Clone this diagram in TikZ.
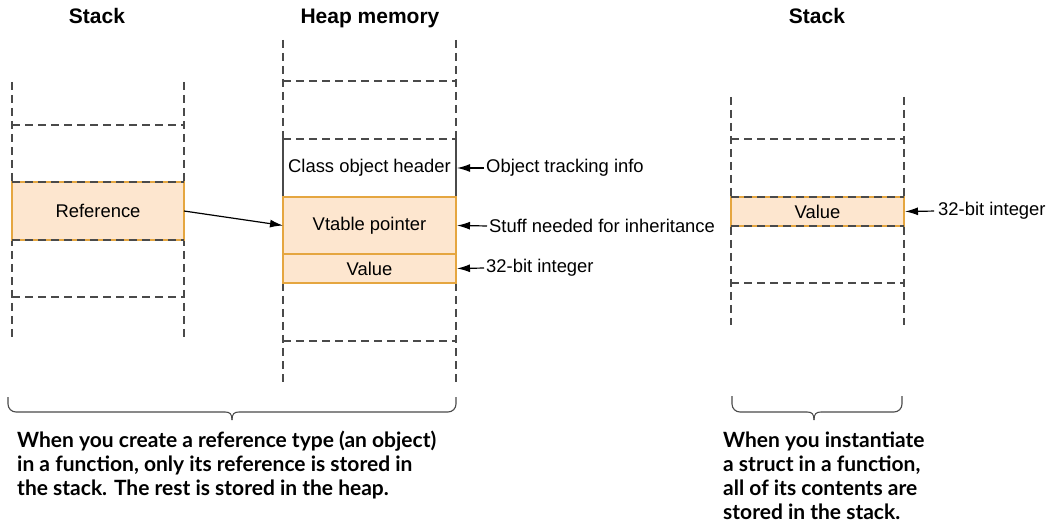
\documentclass[tikz,border=0pt]{standalone}
\usepackage{fontspec}
\setmainfont{Liberation Sans}
\newfontfamily\notefont{Lato}
\usetikzlibrary{arrows.meta}
\definecolor{peach}{HTML}{FDE6CF}
\definecolor{orangeline}{HTML}{E5A640}
\definecolor{linegray}{HTML}{4A4A4A}
\begin{document}
\begin{tikzpicture}[x=1pt,y=-1pt,
  dashline/.style={draw=linegray, line width=1.1pt, dash pattern=on 8pt off 5pt},
  solidline/.style={draw=linegray, line width=1.1pt},
  cell/.style={fill=peach, draw=orangeline, line width=1.2pt, inner sep=0pt, outer sep=0pt,
    font=\fontsize{18.4}{22}\selectfont},
  plaincell/.style={inner sep=0pt, outer sep=0pt, font=\fontsize{18.4}{22}\selectfont},
  lbl/.style={font=\fontsize{18.4}{22}\selectfont, inner sep=0pt, anchor=west},
  title/.style={font=\fontsize{21}{25}\selectfont\bfseries, inner sep=0pt, anchor=base},
  ptr/.style={-{Latex[length=13pt,width=8pt]}, line width=1.2pt, draw=black},
  bracepath/.style={draw=linegray, line width=1.1pt},
  note/.style={font=\notefont\bfseries\fontsize{21}{24}\selectfont, align=left, inner sep=0pt, anchor=base west}
]
\useasboundingbox (0,0) rectangle (1055,529);

% titles
\node[title] (t1) at (97,24) {Stack};
\node[title] (t2) at (370,24) {Heap memory};
\node[title] (t3) at (817,24) {Stack};

% left stack
\draw[dashline] (12,82) -- (12,340);
\draw[dashline] (184,82) -- (184,340);
\draw[dashline] (12,125) -- (184,125);
\draw[dashline] (12,297) -- (184,297);
\node[cell, minimum width=172pt, minimum height=58pt] (ref) at (98,211) {Reference};
\draw[dashline] (ref.north west) -- (ref.north east);
\draw[dashline] (ref.south west) -- (ref.south east);

% heap
\draw[dashline] (283,40) -- (283,139);
\draw[dashline] (456,40) -- (456,139);
\draw[dashline] (283,283) -- (283,383);
\draw[dashline] (456,283) -- (456,383);
\draw[dashline] (283,81) -- (456,81);
\draw[dashline] (283,341) -- (456,341);
\node[plaincell, minimum width=173pt, minimum height=58pt] (hdr) at (369.5,168) {Class object header};
\draw[dashline] (hdr.north west) -- (hdr.north east);
\draw[solidline] (hdr.north west) -- (hdr.south west);
\draw[solidline] (hdr.north east) -- (hdr.south east);
\node[cell, minimum width=173pt, minimum height=57pt] (vt) at (369.5,225.5) {Vtable pointer};
\node[cell, minimum width=173pt, minimum height=29pt] (hv) at (369.5,268.5) {Value};

% right stack
\draw[dashline] (731,97) -- (731,325);
\draw[dashline] (904,97) -- (904,325);
\draw[dashline] (731,139) -- (904,139);
\draw[dashline] (731,283) -- (904,283);
\node[cell, minimum width=173pt, minimum height=29pt] (rv) at (817.5,211.5) {Value};
\draw[dashline] (rv.north west) -- (rv.north east);
\draw[dashline] (rv.south west) -- (rv.south east);

% labels
\node[lbl] (oti) at (486,168) {Object tracking info};
\node[lbl] (inh) at (489,226) {Stuff needed for inheritance};
\node[lbl] (int1) at (486,268) {32-bit integer};
\node[lbl] (int2) at (938,211) {32-bit integer};

% arrows
\draw[ptr] (ref.east) -- (vt.west);
\draw[ptr, shorten <=2pt, shorten >=1pt] (oti.west) -- (hdr.east);
\draw[ptr, shorten <=2pt, shorten >=1pt] (inh.west) -- (vt.east);
\draw[ptr, shorten <=2pt, shorten >=1pt] (int1.west) -- (hv.east);
\draw[ptr, shorten <=4pt, shorten >=1pt] (int2.west) -- (rv.east);

% braces
\coordinate (b1a) at (8,397);
\coordinate (b1t) at (232,420);
\coordinate (b1b) at (456,397);
\draw[bracepath, rounded corners=8pt] (b1a) -- (8,412) -- (225,412);
\draw[bracepath] (225,412) .. controls (230,412) and (232,414) .. (b1t);
\draw[bracepath] (b1t) .. controls (232,414) and (234,412) .. (239,412);
\draw[bracepath, rounded corners=8pt] (239,412) -- (456,412) -- (b1b);

\coordinate (b2a) at (732,396);
\coordinate (b2t) at (814,420);
\coordinate (b2b) at (902,396);
\draw[bracepath, rounded corners=8pt] (b2a) -- (732,412) -- (807,412);
\draw[bracepath] (807,412) .. controls (812,412) and (814,414) .. (b2t);
\draw[bracepath] (b2t) .. controls (814,414) and (816,412) .. (821,412);
\draw[bracepath, rounded corners=8pt] (821,412) -- (902,412) -- (b2b);

% notes
\node[note] (n1) at (17,495) {When you create a reference type (an object)\\in a function, only its reference is stored in\\the stack. The rest is stored in the heap.};
\node[note] (n2) at (723,519) {When you instantiate\\a struct in a function,\\all of its contents are\\stored in the stack.};
\end{tikzpicture}
\end{document}
